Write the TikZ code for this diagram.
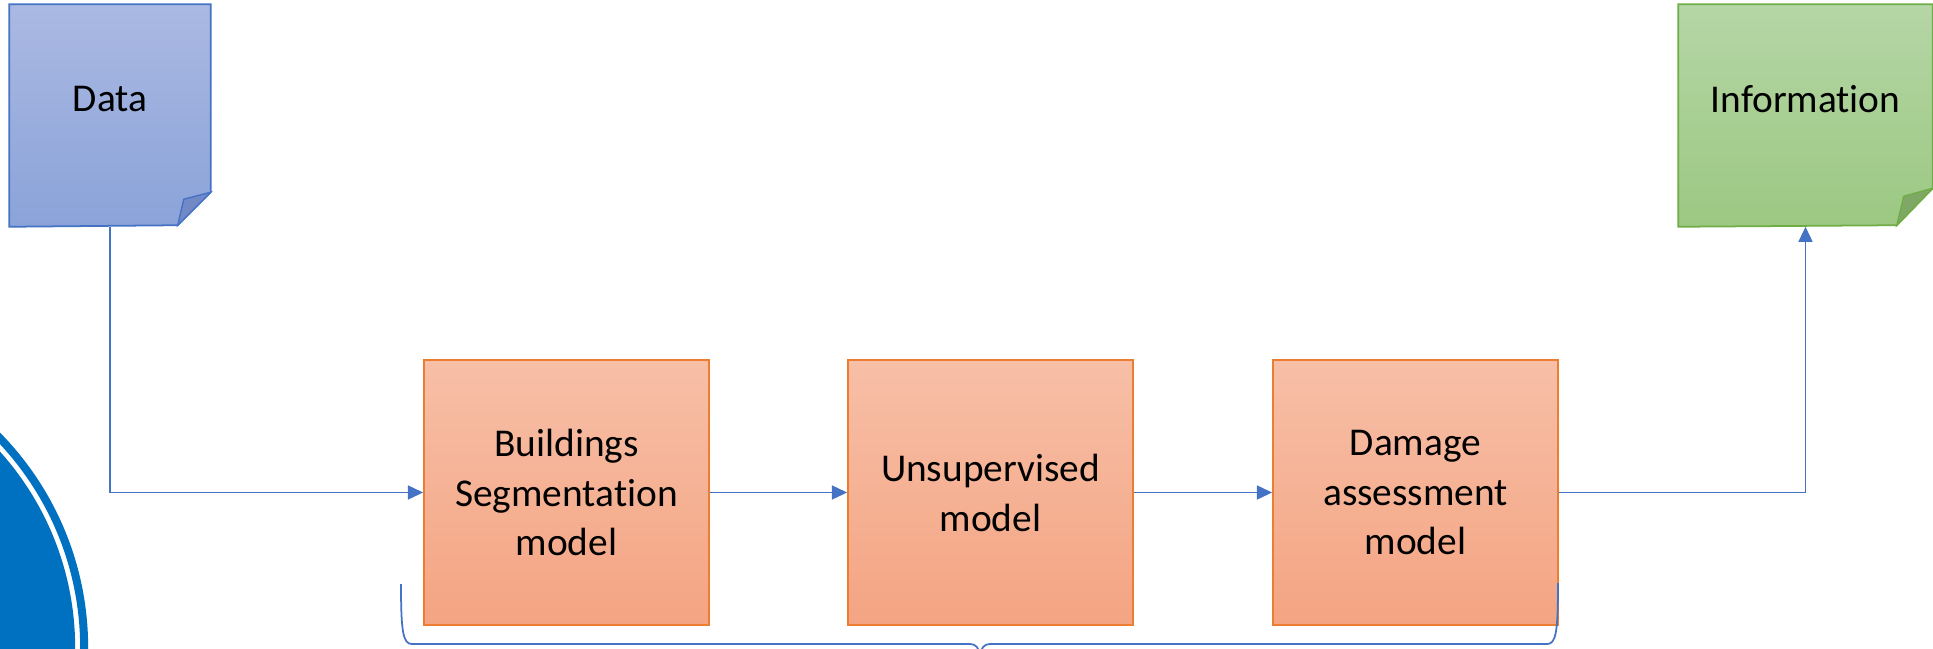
\documentclass[tikz,border=0pt]{standalone}
\usepackage{fontspec}
\setmainfont{Carlito}[Ligatures=CommonOff]
\usetikzlibrary{arrows.meta}

\definecolor{flowblue}{HTML}{4472C4}
\definecolor{logoblue}{HTML}{0070C0}
\definecolor{datatop}{HTML}{AAB9E2}
\definecolor{databot}{HTML}{8BA3D9}
\definecolor{datafold}{HTML}{7389C6}
\definecolor{infotop}{HTML}{B5D6A6}
\definecolor{infobot}{HTML}{9CC882}
\definecolor{infoline}{HTML}{70AD47}
\definecolor{infofold}{HTML}{7FA866}
\definecolor{modeltop}{HTML}{F7BFA7}
\definecolor{modelbot}{HTML}{F4A482}
\definecolor{modelline}{HTML}{ED7D31}

\begin{document}
\begin{tikzpicture}[x=0.01cm,y=-0.01cm,
    every node/.style={font=\fontsize{11.2}{14.2}\selectfont},
    notebox/.style={minimum height=2.21cm,inner sep=0pt},
    modelbox/.style={draw=modelline,line width=0.5pt,top color=modeltop,bottom color=modelbot,
        minimum width=2.85cm,minimum height=2.65cm,align=center,inner sep=0pt},
    flow/.style={draw=flowblue,line width=0.4pt,-{Triangle[length=4.3pt,width=4pt]}}]

    \useasboundingbox (0,0) rectangle (1933,648);
    \clip (0,0) rectangle (1933,648);

    % logo ring on the left edge
    \fill[logoblue] (-219,648) circle (2.94cm);
    \draw[logoblue,line width=0.08cm] (-219,648) circle (3.03cm);

    % input and output notes
    \node[notebox,minimum width=2cm] (data) at (110,115.5) {};
    \path[draw=flowblue,line width=0.5pt,top color=datatop,bottom color=databot]
        (data.north west) -- (data.north east) -- ++(0,188) -- ++(-33,33) -- (data.south west) -- cycle;
    \filldraw[datafold,draw=flowblue,line width=0.4pt] (data.north east) ++(0,188) -- ++(-27,7) -- ++(-6,26) -- cycle;
    \node (datatext) at (110,99) {Data};

    \node[notebox,minimum width=2.53cm] (info) at (1805.5,115.5) {};
    \path[draw=infoline,line width=0.5pt,top color=infotop,bottom color=infobot]
        (info.north west) -- (info.north east) -- ++(0,184) -- ++(-36,37) -- (info.south west) -- cycle;
    \filldraw[infofold,draw=infoline,line width=0.4pt] (info.north east) ++(0,184) -- ++(-29,8) -- ++(-7,29) -- cycle;
    \node (infotext) at (1805.5,99) {Information};

    % processing chain
    \node[modelbox] (seg) at (566.5,492.5) {Buildings\\Segmentation\\model};
    \node[modelbox] (unsup) at (990.5,492.5) {Unsupervised\\model};
    \node[modelbox] (dmg) at (1415.5,492.5) {Damage\\assessment\\model};

    \draw[flow] (data.south) |- (seg.west);
    \draw[flow] (seg) -- (unsup);
    \draw[flow] (unsup) -- (dmg);
    \draw[flow] (dmg.east) -| (info.south);

    % brace under the three models
    \draw[flowblue,line width=0.5pt]
        (401,584) .. controls (401,632) and (403,644) .. (412,644) -- (970,644)
        .. controls (976,644) and (979,648) .. (980,656)
        (980,656) .. controls (981,648) and (984,644) .. (990,644) -- (1547,644)
        .. controls (1556,644) and (1558,632) .. (1558,583);
\end{tikzpicture}
\end{document}
